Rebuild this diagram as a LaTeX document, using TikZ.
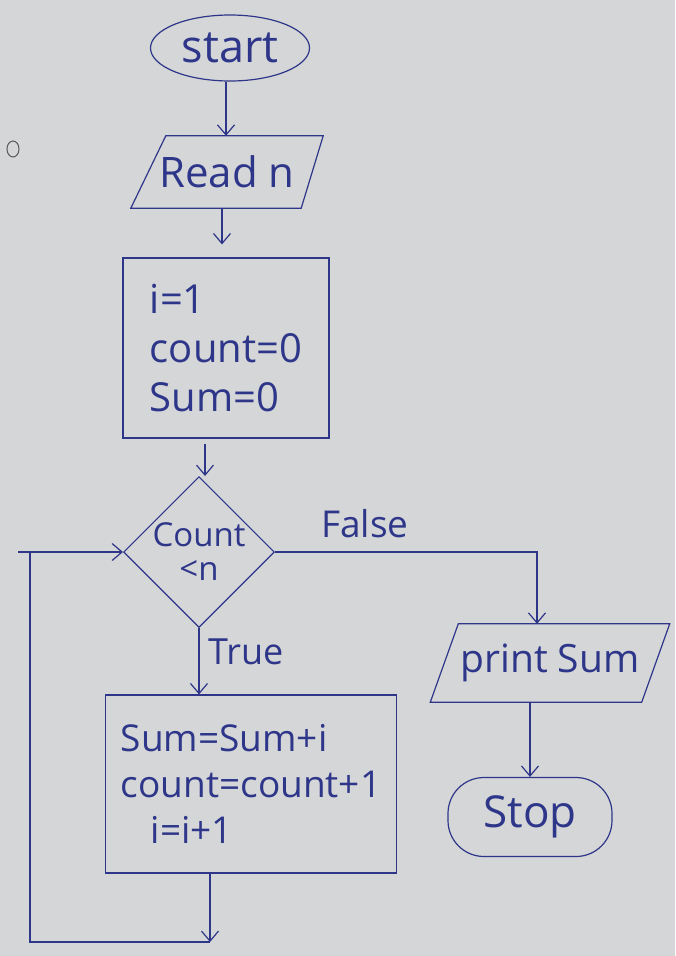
\documentclass[tikz,border=0pt]{standalone}
\usepackage{fontspec}
\setmainfont{Open Sans}
\usetikzlibrary{shapes.geometric,arrows.meta,calc}
\definecolor{ink}{RGB}{46,54,138}
\definecolor{paper}{RGB}{213,214,215}
\begin{document}
\begin{tikzpicture}[x=1pt,y=-1pt,
  flow/.style={draw=ink, line width=1.2pt, inner sep=0pt, text=ink},
  plain/.style={inner sep=0pt, text=ink},
  arr/.style={draw=ink, line width=1.2pt, -{Straight Barb[length=10pt,width=17pt]}},
  every node/.style={font=\fontsize{42}{50}\selectfont}]
% paper
\fill[paper] (0,0) rectangle (675,956);
\useasboundingbox (0,0) rectangle (675,956);
\draw[black!65, line width=1pt] (13,149) ellipse [x radius=6pt, y radius=8pt];

% terminals, input/output and process blocks
\node[flow, ellipse, minimum width=159pt, minimum height=66pt,
  font=\fontsize{45}{50}\selectfont] (start) at (230,48) {start};

\node[plain, minimum width=192pt, minimum height=72pt] (read) at (227,172) {Read n};
\draw[flow] ($(read.north west)+(35,0)$) -- (read.north east)
  -- ($(read.south east)+(-22,0)$) -- (read.south west) -- cycle;

\node[flow, rectangle, minimum width=206pt, minimum height=180pt, align=left,
  font=\fontsize{40}{49}\selectfont] (init) at (226,348) {i=1\\count=0\\Sum=0};

\node[flow, diamond, minimum width=144pt, minimum height=142pt, align=center,
  font=\fontsize{33}{34}\selectfont] (dia) at (199,552) {Count\\<n};

\node[flow, rectangle, minimum width=291pt, minimum height=178pt, align=left,
  font=\fontsize{37}{46}\selectfont] (proc) at (251,784)
  {Sum=Sum+i\\count=count+1\\\hspace{30pt}i=i+1};

\node[plain, minimum width=239pt, minimum height=78pt,
  font=\fontsize{39}{46}\selectfont] (ps) at (550,663) {print Sum};
\draw[flow] ($(ps.north west)+(28,0)$) -- (ps.north east)
  -- ($(ps.south east)+(-28,0)$) -- (ps.south west) -- cycle;

\node[flow, rectangle, rounded corners=36pt, minimum width=164pt, minimum height=79pt,
  font=\fontsize{44}{50}\selectfont] (stop) at (530,817) {Stop};

% branch labels
\node[plain, font=\fontsize{37}{40}\selectfont] (lfalse) at (365,524) {False};
\node[plain, font=\fontsize{36}{40}\selectfont, anchor=west] (ltrue) at (208,652) {True};

% connectors
\draw[arr] ([xshift=-4pt]start.south) -- ([xshift=-4pt]start.south |- read.north);
\draw[arr, shorten >=13pt] ([xshift=-5pt]read.south) -- ([xshift=-5pt]read.south |- init.north);
\draw[arr, shorten <=5pt] ([xshift=6pt]dia.north |- init.south) -- ([xshift=6pt]dia.north);
\draw[arr] (dia.south) -- (dia.south |- proc.north);
\draw[arr] (dia.east) -| ([xshift=-13pt]ps.north);
\draw[arr] ([xshift=-20pt]ps.south) -- ([xshift=-20pt]ps.south |- stop.north);

% loop back to the decision
\coordinate (lb) at (30,942);
\coordinate (lx) at (18,0);
\draw[arr] ([xshift=-41pt]proc.south) -- ([xshift=-41pt]proc.south |- lb);
\draw[flow] ([xshift=-41pt]proc.south |- lb) -- (lb) -- (lb |- dia.west);
\draw[arr] (dia.west -| lx) -- (dia.west);
\end{tikzpicture}
\end{document}
